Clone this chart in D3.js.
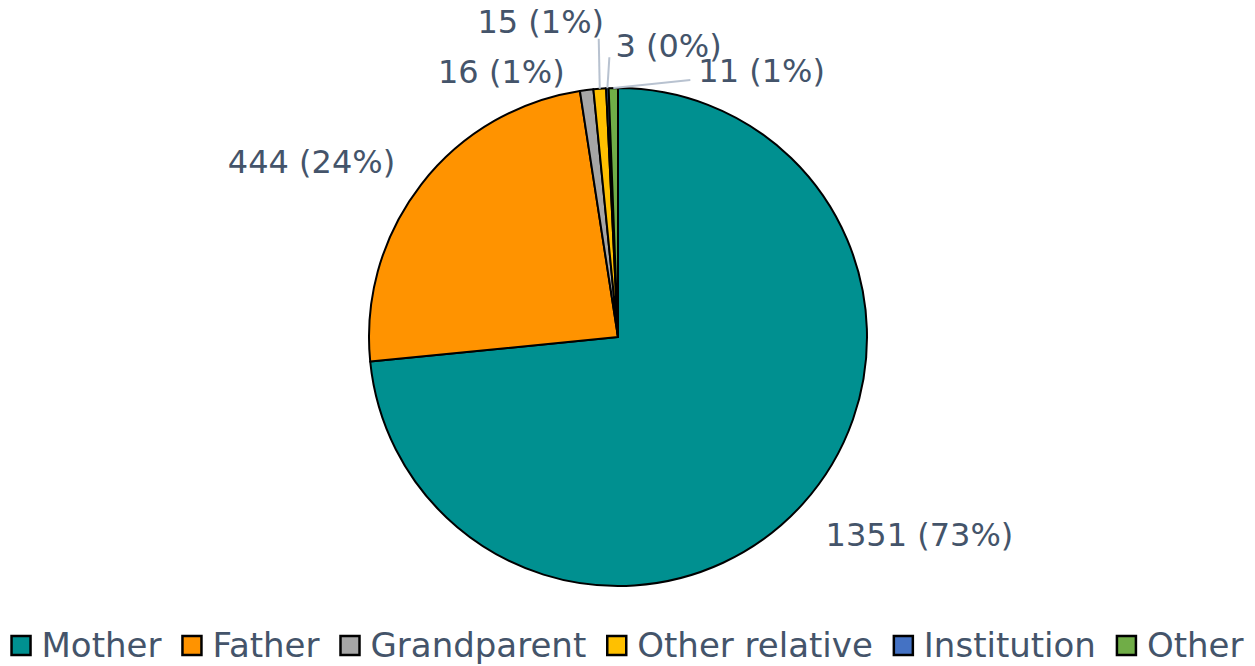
<!DOCTYPE html>
<html lang="en">
<head>
  <meta charset="UTF-8">
  <title>Pie</title>
  <style>
    body { margin: 0; background: white; }
    text { font-family: "DejaVu Sans", Verdana, sans-serif; fill: #44546a; }
  </style>
</head>
<body>
  <svg id="svg" width="1255" height="666"></svg>

  <script src="https://d3js.org/d3.v7.min.js"></script>
  <script>
    const categories = ['Mother', 'Father', 'Grandparent', 'Other relative', 'Institution', 'Other']
    const counts = [1351, 444, 16, 15, 3, 11]
    const percentLabels = ['73%', '24%', '1%', '1%', '0%', '1%']
    const colors = ['#009090', '#ff9300', '#a6a6a6', '#ffc000', '#4472c4', '#70ad47']

    // label nudges relative to rim point at mid angle: [dx, dy, anchor, leader?]
    const labelNudge = [
      [23, 42, 'start', null],
      [-26, -12, 'end', null],
      [-22, -7, 'end', null],
      [-59, -56, 'middle', [-1, -50]],
      [8, -31, 'start', [2, -31]],
      [85, -6, 'start', [77, -8]]
    ]

    const data = categories.map((c, i) => ({ cat: c, value: counts[i], pct: percentLabels[i], i }))
    const svg = d3.select('#svg')
    const cx = 618, cy = 337, r = 249

    const pie = d3.pie().sort(null).value(d => d.value)
    const arc = d3.arc().innerRadius(0).outerRadius(r)
    const arcs = pie(data)

    const g = svg.append('g').attr('transform', `translate(${cx},${cy})`)

    g.selectAll('path')
      .data(arcs)
      .enter()
      .append('path')
      .attr('d', arc)
      .attr('fill', d => colors[d.data.i])
      .attr('stroke', '#000')
      .attr('stroke-width', 2)
      .attr('stroke-linejoin', 'round')

    const rim = d => {
      const a = (d.startAngle + d.endAngle) / 2
      return [r * Math.sin(a), -r * Math.cos(a)]
    }

    // leader lines
    g.selectAll('line.leader')
      .data(arcs.filter(d => labelNudge[d.data.i][3]))
      .enter()
      .append('line')
      .attr('class', 'leader')
      .attr('x1', d => rim(d)[0])
      .attr('y1', d => rim(d)[1])
      .attr('x2', d => rim(d)[0] + labelNudge[d.data.i][3][0])
      .attr('y2', d => rim(d)[1] + labelNudge[d.data.i][3][1])
      .attr('stroke', '#b8c2d0')
      .attr('stroke-width', 2)

    g.selectAll('text.lbl')
      .data(arcs)
      .enter()
      .append('text')
      .attr('class', 'lbl')
      .attr('x', d => rim(d)[0] + labelNudge[d.data.i][0])
      .attr('y', d => rim(d)[1] + labelNudge[d.data.i][1])
      .attr('text-anchor', d => labelNudge[d.data.i][2])
      .style('font-size', '32px')
      .text(d => `${d.data.value} (${d.data.pct})`)

    // legend
    const legend = svg.append('g').attr('transform', 'translate(0,657)')
    let x = 0
    const items = legend.selectAll('g.item')
      .data(data)
      .enter()
      .append('g')
      .attr('class', 'item')
    items.append('rect')
      .attr('y', -21)
      .attr('width', 19)
      .attr('height', 19)
      .attr('fill', d => colors[d.i])
      .attr('stroke', '#000')
      .attr('stroke-width', 2.5)
    items.append('text')
      .attr('x', 30)
      .style('font-size', '34px')
      .text(d => d.cat)
    items.each(function () {
      const w = d3.select(this).select('text').node().getComputedTextLength()
      d3.select(this).attr('transform', `translate(${x},0)`)
      x += 30 + w + 21
    })
    const total = x - 21
    legend.attr('transform', `translate(${(1255 - total) / 2},657)`)
  </script>
</body>
</html>
